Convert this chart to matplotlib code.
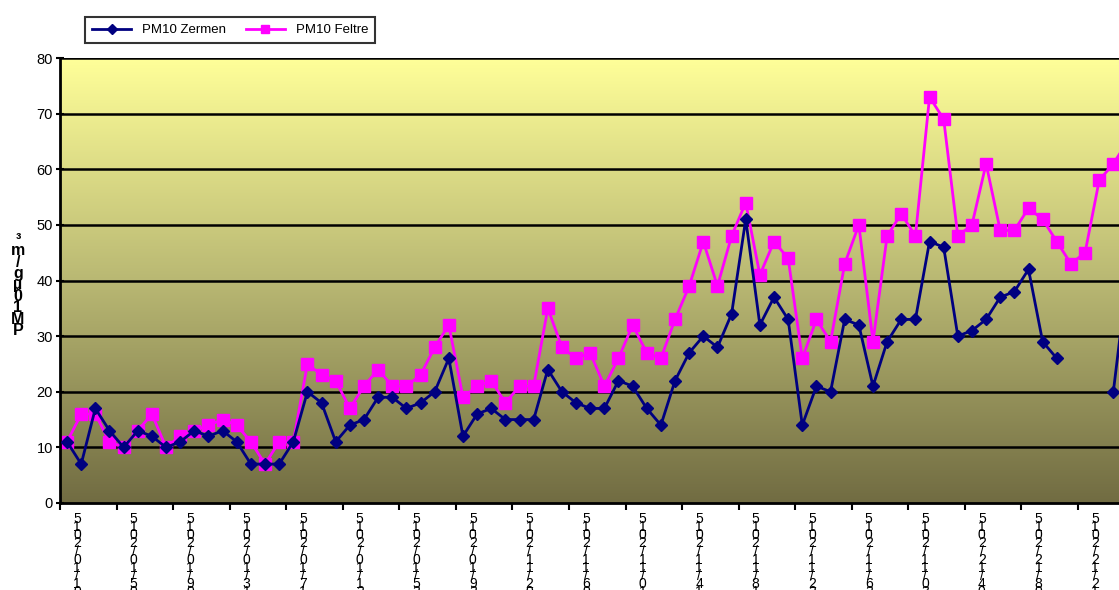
import numpy as np
import matplotlib
matplotlib.use("Agg")
import matplotlib.pyplot as plt
from matplotlib.colors import LinearSegmentedColormap
from matplotlib.lines import Line2D
import datetime as dt

plt.rcParams['font.family'] = ['Liberation Sans', 'DejaVu Sans']

# daily values from 01/10/2015
zermen = [11, 7, 17, 13, 10, 13, 12, 10, 11, 13,
          12, 13, 11, 7, 7, 7, 11, 20, 18, 11,
          14, 15, 19, 19, 17, 18, 20, 26, 12, 16,
          17, 15, 15, 15, 24, 20, 18, 17, 17, 22,
          21, 17, 14, 22, 27, 30, 28, 34, 51, 32,
          37, 33, 14, 21, 20, 33, 32, 21, 29, 33,
          33, 47, 46, 30, 31, 33, 37, 38, 42, 29,
          26, np.nan, np.nan, np.nan, 20, 41]
feltre = [11, 16, 16, 11, 10, 13, 16, 10, 12, 13,
          14, 15, 14, 11, 7, 11, 11, 25, 23, 22,
          17, 21, 24, 21, 21, 23, 28, 32, 19, 21,
          22, 18, 21, 21, 35, 28, 26, 27, 21, 26,
          32, 27, 26, 33, 39, 47, 39, 48, 54, 41,
          47, 44, 26, 33, 29, 43, 50, 29, 48, 52,
          48, 73, 69, 48, 50, 61, 49, 49, 53, 51,
          47, 43, 45, 58, 61, 65]
start = dt.date(2015, 10, 1)
dates = [start + dt.timedelta(days=k) for k in range(len(feltre))]
yticks = [0, 10, 20, 30, 40, 50, 60, 70, 80]

x = np.arange(len(feltre))
x_right = 74.4

fig = plt.figure(figsize=(11.19, 5.90), dpi=100)
ax = fig.add_axes([60 / 1119, 87 / 590, 1 - 60 / 1119, 445 / 590])

# background gradient
cmap = LinearSegmentedColormap.from_list('bg', ['#716c42', '#b9b873', '#ffff99'])
grad = np.linspace(0, 1, 256).reshape(-1, 1)
ax.imshow(grad, extent=[-0.5, x_right, 0, 80], origin='lower', aspect='auto',
          cmap=cmap, zorder=0)

for v in yticks[1:]:
    ax.axhline(v, color='black', lw=1.8, zorder=1)

ax.plot(x, zermen, color='#000080', lw=2, marker='D', ms=6.5, zorder=3,
        label='PM10 Zermen')
ax.plot(x, feltre, color='#ff00ff', lw=2, marker='s', ms=9, zorder=2,
        label='PM10 Feltre')

ax.set_xlim(-0.5, x_right)
ax.set_ylim(0, 80)
ax.set_yticks(yticks)
ax.tick_params(axis='y', length=6, width=1.5, direction='inout', labelsize=10.5, pad=2)
ax.set_xticks(np.arange(-0.5, x_right, 4))
ax.set_xticklabels([])
ax.tick_params(axis='x', length=5, width=1.5, direction='out')
for s in ['top', 'right']:
    ax.spines[s].set_visible(False)
for s in ['left', 'bottom']:
    ax.spines[s].set_linewidth(2)

# stacked date labels, every 4 days (cut by the lower edge as in the original)
for k in range(0, len(dates), 4):
    if k > x_right:
        break
    s = dates[k].strftime('%d/%m/%Y')[::-1]
    ax.text(k + 0.7, -1.6, '\n'.join(s), ha='center', va='top', fontsize=10,
            linespacing=0.47, transform=ax.transData, clip_on=False)

# stacked y label
ylab = 'PM10 µg/m³'.replace(' ', '')[::-1]
fig.text(18 / 1119, 1 - 285 / 590, '\n'.join(ylab), ha='center', va='center',
         fontsize=11.5, fontweight='bold', linespacing=0.7)

handles = [Line2D([], [], color='#000080', lw=2, marker='D', ms=5),
           Line2D([], [], color='#ff00ff', lw=2, marker='s', ms=6)]
leg = fig.legend(handles, ['PM10 Zermen', 'PM10 Feltre'], loc='center',
                 bbox_to_anchor=(230 / 1119, 1 - 30 / 590), ncol=2, fontsize=9.5,
                 frameon=True, fancybox=False, edgecolor='black',
                 handlelength=3, columnspacing=1.5, borderpad=0.5)
leg.get_frame().set_linewidth(1.5)

fig.savefig('out.png', dpi=100)
